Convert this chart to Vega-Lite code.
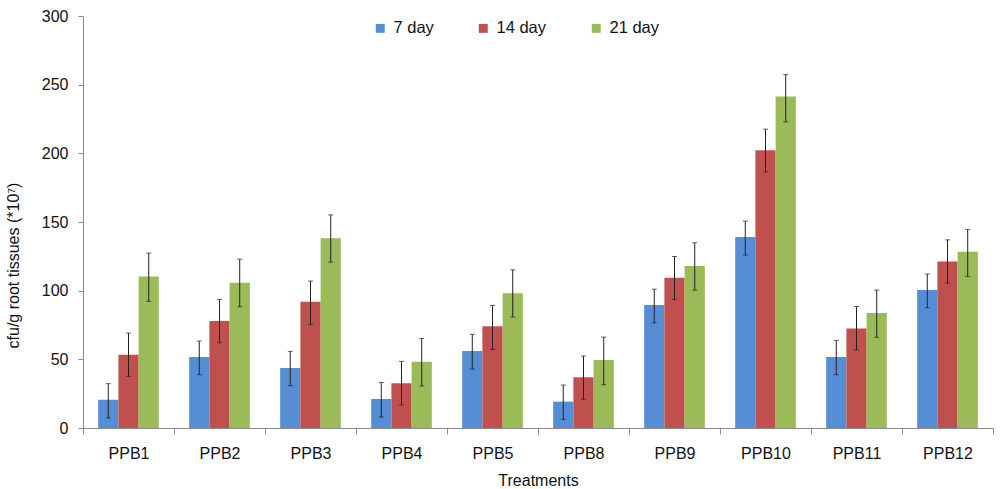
{
  "$schema": "https://vega.github.io/schema/vega-lite/v6.json",
  "description": "cfu/g root tissues by treatment and day",
  "width": 910,
  "height": 412,
  "autosize": {"type": "none"},
  "padding": {"left": 83, "top": 16, "right": 7, "bottom": 61},
  "background": "white",
  "data": {
    "values": [
      {"treatment": "PPB1", "day": "7 day", "value": 20.6, "lo": 7.3, "hi": 32.3},
      {"treatment": "PPB1", "day": "14 day", "value": 53.4, "lo": 37.6, "hi": 69.1},
      {"treatment": "PPB1", "day": "21 day", "value": 110.4, "lo": 92.2, "hi": 127.3},
      {"treatment": "PPB2", "day": "7 day", "value": 51.7, "lo": 38.8, "hi": 63.3},
      {"treatment": "PPB2", "day": "14 day", "value": 77.9, "lo": 62.1, "hi": 93.6},
      {"treatment": "PPB2", "day": "21 day", "value": 105.7, "lo": 88.3, "hi": 123.0},
      {"treatment": "PPB3", "day": "7 day", "value": 43.7, "lo": 30.8, "hi": 55.8},
      {"treatment": "PPB3", "day": "14 day", "value": 91.9, "lo": 75.4, "hi": 107.0},
      {"treatment": "PPB3", "day": "21 day", "value": 138.2, "lo": 120.8, "hi": 155.2},
      {"treatment": "PPB4", "day": "7 day", "value": 21.1, "lo": 8.0, "hi": 33.2},
      {"treatment": "PPB4", "day": "14 day", "value": 32.5, "lo": 16.7, "hi": 48.5},
      {"treatment": "PPB4", "day": "21 day", "value": 48.3, "lo": 30.6, "hi": 65.2},
      {"treatment": "PPB5", "day": "7 day", "value": 56.0, "lo": 42.9, "hi": 68.2},
      {"treatment": "PPB5", "day": "14 day", "value": 74.0, "lo": 57.2, "hi": 89.3},
      {"treatment": "PPB5", "day": "21 day", "value": 98.2, "lo": 80.8, "hi": 115.2},
      {"treatment": "PPB8", "day": "7 day", "value": 19.2, "lo": 6.3, "hi": 31.3},
      {"treatment": "PPB8", "day": "14 day", "value": 36.9, "lo": 20.9, "hi": 52.4},
      {"treatment": "PPB8", "day": "21 day", "value": 49.5, "lo": 31.5, "hi": 66.2},
      {"treatment": "PPB9", "day": "7 day", "value": 89.5, "lo": 76.6, "hi": 101.1},
      {"treatment": "PPB9", "day": "14 day", "value": 109.4, "lo": 93.6, "hi": 124.9},
      {"treatment": "PPB9", "day": "21 day", "value": 117.9, "lo": 100.4, "hi": 134.9},
      {"treatment": "PPB10", "day": "7 day", "value": 139.0, "lo": 125.9, "hi": 150.6},
      {"treatment": "PPB10", "day": "14 day", "value": 202.3, "lo": 186.5, "hi": 217.6},
      {"treatment": "PPB10", "day": "21 day", "value": 241.3, "lo": 222.9, "hi": 257.3},
      {"treatment": "PPB11", "day": "7 day", "value": 51.7, "lo": 38.8, "hi": 63.8},
      {"treatment": "PPB11", "day": "14 day", "value": 72.5, "lo": 56.8, "hi": 88.5},
      {"treatment": "PPB11", "day": "21 day", "value": 83.7, "lo": 66.0, "hi": 100.4},
      {"treatment": "PPB12", "day": "7 day", "value": 100.4, "lo": 87.6, "hi": 112.1},
      {"treatment": "PPB12", "day": "14 day", "value": 121.3, "lo": 105.5, "hi": 137.0},
      {"treatment": "PPB12", "day": "21 day", "value": 128.3, "lo": 110.4, "hi": 144.6}
    ]
  },
  "encoding": {
    "x": {
      "field": "treatment",
      "type": "nominal",
      "sort": null,
      "scale": {"paddingInner": 0, "paddingOuter": 0},
      "axis": {
        "title": "Treatments",
        "labelAngle": 0,
        "tickBand": "extent",
        "tickSize": 6,
        "labelPadding": 11,
        "titlePadding": 11
      }
    },
    "xOffset": {
      "field": "day",
      "type": "nominal",
      "sort": ["7 day", "14 day", "21 day"],
      "scale": {"paddingInner": 0, "paddingOuter": 0.75}
    }
  },
  "layer": [
    {
      "mark": {"type": "bar"},
      "encoding": {
        "y": {
          "field": "value",
          "type": "quantitative",
          "scale": {"domain": [0, 300], "nice": false},
          "axis": {
            "title": "cfu/g root tissues (*10⁷)",
            "values": [0, 50, 100, 150, 200, 250, 300],
            "grid": false,
            "tickSize": 5,
            "labelPadding": 10,
            "titleX": -70,
            "titleY": 249,
            "titleBaseline": "middle",
            "titleFontSize": 16
          }
        },
        "color": {
          "field": "day",
          "type": "nominal",
          "sort": ["7 day", "14 day", "21 day"],
          "scale": {
            "domain": ["7 day", "14 day", "21 day"],
            "range": ["#558ED5", "#C0504D", "#9BBB59"]
          },
          "legend": {
            "title": null,
            "orient": "none",
            "direction": "horizontal",
            "legendX": 289,
            "legendY": 4,
            "symbolType": "square",
            "symbolSize": 80,
            "symbolStrokeWidth": 0,
            "labelFontSize": 16.5,
            "labelOffset": 5,
            "columnPadding": 41
          }
        }
      }
    },
    {
      "mark": {"type": "rule", "color": "#222222", "strokeWidth": 1},
      "encoding": {
        "y": {"field": "lo", "type": "quantitative"},
        "y2": {"field": "hi"}
      }
    },
    {
      "mark": {"type": "tick", "color": "#222222", "thickness": 1, "size": 5},
      "encoding": {
        "y": {"field": "lo", "type": "quantitative"}
      }
    },
    {
      "mark": {"type": "tick", "color": "#222222", "thickness": 1, "size": 5},
      "encoding": {
        "y": {"field": "hi", "type": "quantitative"}
      }
    }
  ],
  "config": {
    "font": "Liberation Sans",
    "view": {"stroke": null},
    "axis": {
      "domainColor": "#8C8C8C",
      "tickColor": "#8C8C8C",
      "labelColor": "#111111",
      "titleColor": "#111111",
      "labelFontSize": 16,
      "titleFontSize": 16,
      "titleFontWeight": "normal",
      "labelFont": "Liberation Sans",
      "titleFont": "Liberation Sans"
    },
    "legend": {"labelColor": "#111111", "labelFont": "Liberation Sans"}
  }
}
